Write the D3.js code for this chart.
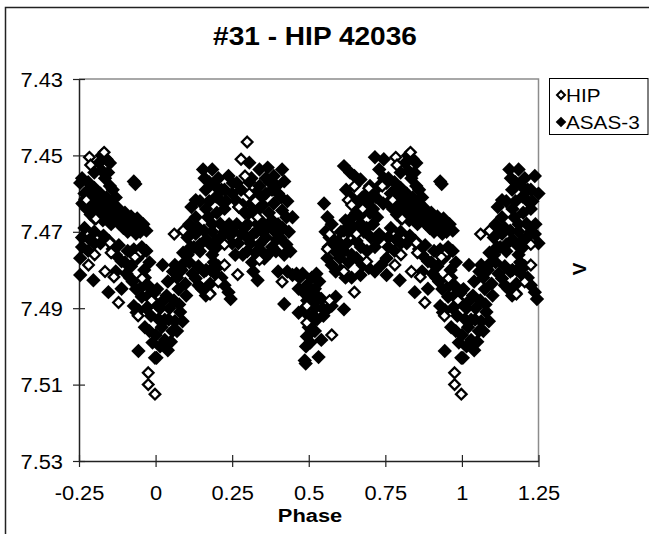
<!DOCTYPE html>
<html>
<head>
<meta charset="utf-8">
<script src="https://cdn.jsdelivr.net/npm/d3@7"></script>
<style>
  body { margin: 0; background: #fff; }
  text { font-family: "Liberation Sans", Arial, sans-serif; fill: #000; }
</style>
</head>
<body>
<svg class="main" width="649" height="534"></svg>
<script>
// phase, V  (one cycle; the -0.25..0 and 1..1.25 wings are copies)
const asasPoints = [
  // 0.00 - 0.25
  [0.003, 7.4890], [0.010, 7.4929], [0.000, 7.4970], [0.003, 7.5030], [0.030, 7.4983],
  [0.050, 7.4988], [0.043, 7.4930], [0.063, 7.4934], [0.036, 7.4867], [0.057, 7.4804],
  [0.063, 7.4787], [0.090, 7.4755], [0.077, 7.4890], [0.088, 7.4934], [0.023, 7.4787],
  [0.097, 7.4836], [0.100, 7.4867], [0.020, 7.4950], [0.015, 7.4900], [0.070, 7.4960],
  [0.104, 7.4715], [0.117, 7.4697], [0.131, 7.4705], [0.145, 7.4733], [0.131, 7.4822],
  [0.151, 7.4849], [0.164, 7.4867], [0.158, 7.4804], [0.178, 7.4836], [0.198, 7.4813],
  [0.225, 7.4840], [0.245, 7.4876], [0.238, 7.4858], [0.117, 7.4635], [0.131, 7.4617],
  [0.155, 7.4537], [0.185, 7.4537], [0.164, 7.4590], [0.198, 7.4608], [0.145, 7.4620],
  [0.171, 7.4662], [0.131, 7.4662], [0.110, 7.4680], [0.158, 7.4697], [0.185, 7.4680],
  [0.211, 7.4679], [0.225, 7.4640], [0.238, 7.4554], [0.225, 7.4590], [0.211, 7.4715],
  [0.238, 7.4706], [0.198, 7.4724], [0.145, 7.4751], [0.178, 7.4733], [0.125, 7.4740],
  [0.110, 7.4780], [0.120, 7.4810], [0.185, 7.4760], [0.205, 7.4560], [0.175, 7.4620],
  [0.215, 7.4620], [0.240, 7.4680], [0.190, 7.4780],
  [0.005, 7.4850], [0.025, 7.4880], [0.045, 7.4900], [0.060, 7.4880], [0.075, 7.4850],
  [0.085, 7.4800], [0.095, 7.4780], [0.105, 7.4760], [0.115, 7.4740], [0.070, 7.4820],
  [0.040, 7.4830], [0.030, 7.4930], [0.055, 7.4960], [0.080, 7.4910], [0.040, 7.5010],
  [0.015, 7.5000], [0.140, 7.4790], [0.165, 7.4800], [0.180, 7.4800], [0.205, 7.4790],
  [0.215, 7.4820], [0.140, 7.4840], [0.175, 7.4860], [0.160, 7.4560], [0.175, 7.4570],
  [0.195, 7.4580], [0.215, 7.4590], [0.230, 7.4620], [0.165, 7.4640], [0.185, 7.4700],
  [0.200, 7.4650], [0.225, 7.4700], [0.200, 7.4740], [0.165, 7.4720], [0.140, 7.4690],
  // 0.25 - 0.45
  [0.252, 7.4572], [0.306, 7.4519], [0.339, 7.4537], [0.366, 7.4532], [0.313, 7.4560],
  [0.339, 7.4580], [0.306, 7.4570], [0.386, 7.4554], [0.413, 7.4537], [0.420, 7.4568],
  [0.265, 7.4572], [0.279, 7.4590], [0.272, 7.4635], [0.292, 7.4650], [0.313, 7.4626],
  [0.333, 7.4644], [0.360, 7.4600], [0.373, 7.4570], [0.386, 7.4626], [0.400, 7.4600],
  [0.413, 7.4644], [0.427, 7.4662], [0.447, 7.4662], [0.265, 7.4680], [0.279, 7.4706],
  [0.299, 7.4715], [0.319, 7.4706], [0.339, 7.4733], [0.360, 7.4715], [0.386, 7.4697],
  [0.406, 7.4715], [0.427, 7.4733], [0.440, 7.4751], [0.299, 7.4751], [0.326, 7.4755],
  [0.346, 7.4751], [0.373, 7.4755], [0.393, 7.4751], [0.353, 7.4679], [0.333, 7.4679],
  [0.300, 7.4680], [0.370, 7.4650], [0.350, 7.4630], [0.255, 7.4700], [0.260, 7.4760],
  [0.285, 7.4760], [0.400, 7.4680], [0.319, 7.4804], [0.333, 7.4827], [0.400, 7.4804],
  [0.430, 7.4804], [0.420, 7.4889], [0.447, 7.4813],
  [0.250, 7.4600], [0.265, 7.4620], [0.285, 7.4630], [0.305, 7.4650], [0.325, 7.4600],
  [0.345, 7.4610], [0.360, 7.4560], [0.380, 7.4590], [0.395, 7.4580], [0.410, 7.4610],
  [0.430, 7.4620], [0.250, 7.4730], [0.270, 7.4730], [0.290, 7.4690], [0.310, 7.4730],
  [0.330, 7.4700], [0.350, 7.4700], [0.365, 7.4690], [0.380, 7.4670], [0.395, 7.4720],
  [0.415, 7.4690], [0.435, 7.4700], [0.420, 7.4760], [0.380, 7.4740], [0.355, 7.4770],
  [0.315, 7.4780],
  // 0.45 - 0.55
  [0.460, 7.4810], [0.480, 7.4810], [0.467, 7.4849], [0.467, 7.4912], [0.487, 7.4900],
  [0.494, 7.4840], [0.500, 7.4867], [0.520, 7.4849], [0.534, 7.4830], [0.541, 7.4876],
  [0.514, 7.4894], [0.494, 7.4974], [0.491, 7.5000], [0.487, 7.5037], [0.490, 7.5045],
  [0.507, 7.4938], [0.527, 7.4929], [0.532, 7.5028], [0.541, 7.4983], [0.510, 7.4960],
  [0.520, 7.4900], [0.500, 7.4920], [0.530, 7.4870], [0.510, 7.4820], [0.525, 7.4810],
  [0.470, 7.4820], [0.485, 7.4860], [0.495, 7.4880], [0.505, 7.4860], [0.515, 7.4870],
  [0.525, 7.4880], [0.500, 7.4950], [0.515, 7.4920], [0.505, 7.4990], [0.520, 7.4960],
  [0.545, 7.4900],
  // 0.55 - 0.75
  [0.561, 7.4903], [0.575, 7.4894], [0.548, 7.4920], [0.615, 7.4903], [0.588, 7.4870],
  [0.550, 7.4626], [0.561, 7.4662], [0.575, 7.4680], [0.568, 7.4715], [0.561, 7.4769],
  [0.575, 7.4787], [0.588, 7.4804], [0.601, 7.4769], [0.615, 7.4751], [0.595, 7.4725],
  [0.615, 7.4697], [0.629, 7.4700], [0.642, 7.4662], [0.622, 7.4590], [0.615, 7.4528],
  [0.635, 7.4545], [0.649, 7.4554], [0.669, 7.4563], [0.662, 7.4626], [0.683, 7.4644],
  [0.669, 7.4679], [0.689, 7.4690], [0.703, 7.4715], [0.656, 7.4724], [0.656, 7.4769],
  [0.676, 7.4787], [0.696, 7.4795], [0.669, 7.4813], [0.716, 7.4804], [0.737, 7.4787],
  [0.716, 7.4740], [0.730, 7.4706], [0.723, 7.4662], [0.743, 7.4626], [0.709, 7.4599],
  [0.716, 7.4505], [0.745, 7.4510], [0.730, 7.4537], [0.745, 7.4560], [0.690, 7.4600],
  [0.640, 7.4610], [0.650, 7.4690], [0.630, 7.4780], [0.640, 7.4820], [0.700, 7.4650],
  [0.555, 7.4700], [0.565, 7.4740], [0.580, 7.4720], [0.585, 7.4750], [0.600, 7.4740],
  [0.605, 7.4700], [0.620, 7.4670], [0.625, 7.4730], [0.635, 7.4690], [0.645, 7.4700],
  [0.655, 7.4650], [0.665, 7.4660], [0.675, 7.4610], [0.680, 7.4700], [0.695, 7.4620],
  [0.700, 7.4580], [0.710, 7.4640], [0.720, 7.4610], [0.730, 7.4580], [0.710, 7.4680],
  [0.725, 7.4720], [0.690, 7.4750], [0.670, 7.4740], [0.640, 7.4760], [0.605, 7.4800],
  [0.620, 7.4820],
  // 0.75 - 1.00
  [0.754, 7.4572], [0.761, 7.4626], [0.768, 7.4600], [0.781, 7.4590], [0.795, 7.4610],
  [0.808, 7.4625], [0.821, 7.4626], [0.835, 7.4635], [0.848, 7.4645], [0.862, 7.4644],
  [0.875, 7.4655], [0.889, 7.4660], [0.902, 7.4662], [0.915, 7.4670], [0.929, 7.4675],
  [0.943, 7.4680], [0.956, 7.4690], [0.970, 7.4697], [0.775, 7.4640], [0.788, 7.4655],
  [0.801, 7.4665], [0.815, 7.4650], [0.828, 7.4670], [0.842, 7.4660], [0.855, 7.4680],
  [0.882, 7.4679], [0.895, 7.4690], [0.909, 7.4700], [0.936, 7.4705], [0.815, 7.4520],
  [0.825, 7.4540], [0.840, 7.4510], [0.851, 7.4520], [0.835, 7.4560], [0.851, 7.4580],
  [0.800, 7.4545], [0.929, 7.4568], [0.934, 7.4575], [0.754, 7.4769], [0.760, 7.4715],
  [0.768, 7.4690], [0.785, 7.4720], [0.800, 7.4700], [0.820, 7.4730], [0.848, 7.4724],
  [0.870, 7.4760], [0.889, 7.4777], [0.909, 7.4750], [0.929, 7.4746], [0.950, 7.4760],
  [0.970, 7.4750], [0.980, 7.4780], [0.963, 7.4800], [0.754, 7.4813], [0.797, 7.4827],
  [0.846, 7.4858], [0.889, 7.4849], [0.870, 7.4804], [0.916, 7.4820], [0.936, 7.4850],
  [0.929, 7.4894], [0.945, 7.4905], [0.944, 7.5012], [0.965, 7.4950], [0.976, 7.4867],
  [0.960, 7.4840], [0.985, 7.4920], [0.990, 7.4880], [0.938, 7.4911], [0.998, 7.5030],
  [0.760, 7.4560], [0.780, 7.4570], [0.800, 7.4585], [0.820, 7.4600], [0.840, 7.4610],
  [0.860, 7.4625], [0.880, 7.4640], [0.900, 7.4650], [0.920, 7.4660], [0.940, 7.4665],
  [0.960, 7.4680], [0.770, 7.4615], [0.790, 7.4635], [0.810, 7.4645], [0.830, 7.4655],
  [0.850, 7.4660], [0.870, 7.4670], [0.890, 7.4680], [0.910, 7.4685], [0.930, 7.4690],
  [0.950, 7.4700], [0.760, 7.4740], [0.780, 7.4750], [0.800, 7.4730], [0.830, 7.4710],
  [0.860, 7.4745], [0.880, 7.4735], [0.900, 7.4780], [0.920, 7.4790], [0.940, 7.4770],
  [0.824, 7.4500], [0.845, 7.4545], [0.860, 7.4590], [0.870, 7.4610], [0.955, 7.4740],
  [0.965, 7.4820], [0.975, 7.4840], [0.985, 7.4850], [0.995, 7.4860], [0.955, 7.4870],
  [0.970, 7.4900], [0.980, 7.4960], [0.990, 7.4990], [0.925, 7.4830], [0.905, 7.4810]
];

const hipPoints = [
  [0.061, 7.4706], [0.090, 7.4697], [0.178, 7.4863], [0.205, 7.4831], [0.225, 7.4787],
  [0.225, 7.4733], [0.268, 7.4812], [0.279, 7.4510], [0.299, 7.4465], [0.292, 7.4554],
  [0.272, 7.4635], [0.306, 7.4600], [0.326, 7.4620], [0.333, 7.4662], [0.339, 7.4773],
  [0.413, 7.4831], [0.494, 7.4894], [0.494, 7.4938], [0.568, 7.4880], [0.575, 7.4970],
  [0.568, 7.4706], [0.561, 7.4745], [0.629, 7.4617], [0.640, 7.4630], [0.649, 7.4581],
  [0.649, 7.4858], [0.615, 7.4804], [0.656, 7.4706], [0.676, 7.4640], [0.696, 7.4586],
  [0.689, 7.4778], [0.740, 7.4580],
  [0.784, 7.4505], [0.788, 7.4525], [0.832, 7.4492], [0.774, 7.4617], [0.805, 7.4666],
  [0.801, 7.4760], [0.781, 7.4787], [0.851, 7.4729], [0.855, 7.4755], [0.835, 7.4804],
  [0.864, 7.4818], [0.879, 7.4885], [0.943, 7.4760], [0.956, 7.4822], [0.987, 7.4880],
  [0.943, 7.4920], [0.976, 7.5069], [0.976, 7.5100], [0.998, 7.5125], [0.933, 7.4766]
];

const xTicks = [-0.25, 0, 0.25, 0.5, 0.75, 1, 1.25];
const yTicks = [7.43, 7.45, 7.47, 7.49, 7.51, 7.53];
const legendLabels = ["HIP", "ASAS-3"];

const stretch = 1.12; // glyphs in the picture are a little wide

// repeat the cycle into the wings, as the phase plot does
function wrap(points) {
  return points.flatMap(([p, v]) => {
    const out = [[p, v]];
    if (p >= 0.75) out.push([p - 1, v]);
    if (p <= 0.25) out.push([p + 1, v]);
    return out;
  });
}

function diamond(r) {
  return `M0,${-r}L${r},0L0,${r}L${-r},0Z`;
}

const svg = d3.select(".main");
svg.append("rect").attr("width", 649).attr("height", 534).attr("fill", "#fff");

// outer chart frame (right/bottom edges fall off the picture)
svg.append("rect")
  .attr("x", 5.5).attr("y", 7.5)
  .attr("width", 700).attr("height", 600)
  .attr("fill", "none").attr("stroke", "#222").attr("stroke-width", 1.5);

const x = d3.scaleLinear().domain([-0.25, 1.25]).range([79, 538.5]);
const y = d3.scaleLinear().domain([7.43, 7.53]).range([79, 461]);

// plot frame, top and right in grey
svg.append("path")
  .attr("d", `M${x(-0.25)},${y(7.43)}H${x(1.25)}V${y(7.53)}`)
  .attr("fill", "none").attr("stroke", "#8c8c8c").attr("stroke-width", 1.5);

// title
svg.append("text")
  .attr("transform", `translate(315,45) scale(1.08,1)`)
  .attr("text-anchor", "middle")
  .style("font-size", "26px").style("font-weight", "bold")
  .text("#31 - HIP 42036");

// axes
const yAxis = svg.append("g")
  .attr("transform", `translate(${x(-0.25)},0)`)
  .call(d3.axisLeft(y).tickValues(yTicks).tickFormat(d3.format(".2f")).tickSize(6).tickSizeOuter(0));
const xAxis = svg.append("g")
  .attr("transform", `translate(0,${y(7.53)})`)
  .call(d3.axisBottom(x).tickValues(xTicks).tickFormat(d => String(d)).tickSize(6).tickSizeOuter(0));

[yAxis, xAxis].forEach(g => {
  g.select(".domain").attr("stroke", "#222").attr("stroke-width", 1.5);
  g.selectAll(".tick line").attr("stroke", "#222").attr("stroke-width", 1.2);
  g.selectAll("text").style("font-size", "19.5px").style("font-family", "Liberation Sans, Arial, sans-serif");
});
yAxis.selectAll(".tick line").attr("x1", 6);
yAxis.selectAll(".tick text")
  .attr("x", null).attr("dy", "0.36em")
  .attr("transform", `translate(-16,0) scale(${stretch},1)`);
xAxis.selectAll(".tick line").attr("y1", -6);
xAxis.selectAll(".tick text")
  .attr("y", null).attr("dy", "0.71em")
  .attr("transform", `translate(0,25.5) scale(${stretch},1)`);

// axis titles
svg.append("text")
  .attr("transform", `translate(310,521.5) scale(1.15,1)`)
  .attr("text-anchor", "middle")
  .style("font-size", "19px").style("font-weight", "bold")
  .text("Phase");
svg.append("text")
  .attr("transform", "translate(586,269) rotate(-90)")
  .attr("text-anchor", "middle")
  .style("font-size", "19px").style("font-weight", "bold")
  .text("V");

// points: ASAS-3 first, HIP drawn over it
const plot = svg.append("g");
plot.selectAll("path.asas")
  .data(wrap(asasPoints))
  .join("path")
  .attr("class", "asas")
  .attr("transform", d => `translate(${x(d[0])},${y(d[1])})`)
  .attr("d", diamond(7.2))
  .attr("fill", "#000");
plot.selectAll("path.hip")
  .data(wrap(hipPoints))
  .join("path")
  .attr("class", "hip")
  .attr("transform", d => `translate(${x(d[0])},${y(d[1])})`)
  .attr("d", diamond(5.3))
  .attr("fill", "#fff")
  .attr("stroke", "#000")
  .attr("stroke-width", 2.3);

// legend
const legend = svg.append("g");
legend.append("rect")
  .attr("x", 549.5).attr("y", 78.5).attr("width", 98.5).attr("height", 56)
  .attr("fill", "#fff").attr("stroke", "#000").attr("stroke-width", 1);
legendLabels.forEach((label, i) => {
  const cy = 95 + i * 27;
  legend.append("path")
    .attr("transform", `translate(561,${cy})`)
    .attr("d", diamond(i === 0 ? 4 : 5.3))
    .attr("fill", i === 0 ? "#fff" : "#000")
    .attr("stroke", "#000")
    .attr("stroke-width", i === 0 ? 2 : 0);
  legend.append("text")
    .attr("transform", `translate(566,${cy + 6.5}) scale(${stretch},1)`)
    .style("font-size", "18.5px")
    .text(label);
});
</script>
</body>
</html>
